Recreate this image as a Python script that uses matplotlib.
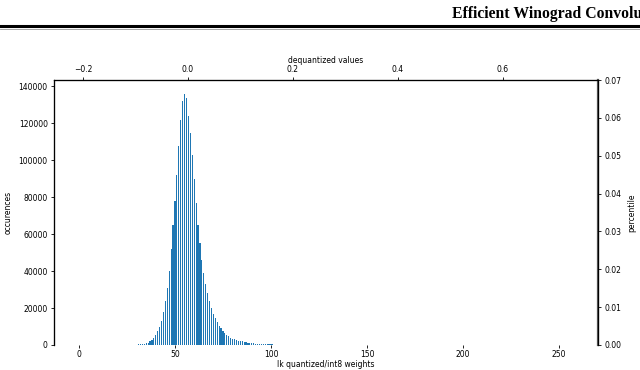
import numpy as np
import matplotlib
matplotlib.use("Agg")
import matplotlib.pyplot as plt

# histogram of quantized weights (bin value -> number of occurrences)
bins = list(range(27, 121))
counts = [100, 150, 200, 250, 300, 400,
          500, 700, 900, 1200, 2000, 2800, 3600, 5200, 7500, 10000,
          13000, 18000, 24000, 31000, 40000, 52000, 65000, 78000, 92000, 108000,
          122000, 132000, 136000, 134000, 124000, 115000, 103000, 90000, 77000, 65000,
          55000, 46000, 39000, 33000, 28000, 24000, 20000, 17000, 14500, 12500,
          10500, 9000, 7600, 6400, 5500, 4700, 4000, 3500, 3000, 2700,
          2400, 2100, 1900, 1700, 1500, 1300, 1200, 1000, 900, 800,
          700, 600, 550, 500, 450, 400, 350, 300,
          280, 260, 240, 220, 200, 180, 160, 150, 140, 130, 120, 110,
          100, 90, 80, 70, 60, 50, 40, 30]

header_text = "Efficient Winograd Convolu"
xlabel_bottom = "Ik quantized/int8 weights"
xlabel_top = "dequantized values"
ylabel_left = "occurences"
ylabel_right = "percentile"

fs = 5.5

fig = plt.figure(figsize=(6.4, 3.7), dpi=100)

# page header of the paper
fig.text(452 / 640, 1 - 18 / 370, header_text, fontsize=11.3, fontweight="bold",
         family="Liberation Serif", ha="left", va="baseline")
fig.add_artist(plt.Line2D([0, 1], [1 - 25.8 / 370] * 2, color="black", lw=2.2,
                          transform=fig.transFigure))
fig.add_artist(plt.Line2D([0, 1], [1 - 28.6 / 370] * 2, color="#999999", lw=0.6,
                          transform=fig.transFigure))

ax = fig.add_axes([54 / 640, 1 - 345 / 370, 544 / 640, 265 / 370])
ax.bar(bins, counts, width=0.6, color="#1f77b4")
ax.set_xlim(-13, 270.3)
ax.set_ylim(0, 143500)
ax.set_xticks([0, 50, 100, 150, 200, 250])
ax.set_yticks(np.arange(0, 140001, 20000))
ax.tick_params(axis="y", labelsize=fs, length=2.5, width=0.6, pad=2)
ax.tick_params(axis="x", labelsize=fs, length=2.5, width=0.6, pad=1)
ax.set_xlabel(xlabel_bottom, fontsize=fs, labelpad=0.5)
ax.set_ylabel(ylabel_left, fontsize=fs, labelpad=4)
ax.spines["bottom"].set_visible(False)

# percentile axis on the right
ax2 = ax.twinx()
ax2.set_ylim(0, 0.07)
ax2.tick_params(labelsize=fs, length=2.5, width=0.6, pad=2)
ax2.set_ylabel(ylabel_right, fontsize=fs, labelpad=4)
ax2.spines["right"].set_linewidth(1.6)
ax2.spines["right"].set_color("#555555")
ax2.spines["bottom"].set_visible(False)

# dequantized values on top
ax3 = ax.twiny()
ax3.set_xlim(-0.2552, 0.781)
ax3.set_xticks([-0.2, 0.0, 0.2, 0.4, 0.6])
ax3.tick_params(labelsize=fs, length=2.5, width=0.6, pad=2)
ax3.set_xlabel(xlabel_top, fontsize=fs, labelpad=1.5)
ax3.spines["bottom"].set_visible(False)

for a in (ax, ax2, ax3):
    for s in a.spines.values():
        if s is not ax2.spines["right"]:
            s.set_linewidth(0.8)

fig.savefig("out.png", dpi=100)
